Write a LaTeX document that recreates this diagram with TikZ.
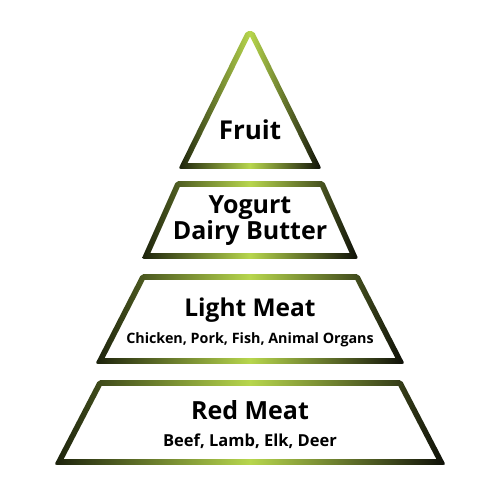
\documentclass[tikz,border=0pt]{standalone}
\usepackage{fontspec}
\setmainfont{Open Sans}
\usepackage{tikz}
\usetikzlibrary{positioning}
\definecolor{leafdark}{HTML}{1C220C}
\definecolor{leaflight}{HTML}{B7D64D}
\definecolor{leafblack}{HTML}{0E0F08}
\tikzset{tiershade/.style={left color=leafdark, right color=leafblack, middle color=leaflight, even odd rule}}
% one level: top y, bottom y, top half width, bottom half width (centre line of the rim)
\newcommand{\tier}[4]{%
  \pgfmathsetmacro{\tslope}{((#4)-(#3))/((#2)-(#1))}
  \pgfmathsetmacro{\toff}{2.8*sqrt(1+\tslope*\tslope)}
  \pgfmathsetmacro{\otop}{(#3)-2.8*\tslope+\toff}
  \pgfmathsetmacro{\obot}{(#4)+2.8*\tslope+\toff}
  \pgfmathsetmacro{\itop}{max((#3)+2.8*\tslope-\toff,0)}
  \pgfmathsetmacro{\ibot}{(#4)-2.8*\tslope-\toff}
  \shade[tiershade]
    [rounded corners=2pt] ({250-\otop},{(#1)-2.8}) -- ({250+\otop},{(#1)-2.8}) -- ({250+\obot},{(#2)+2.8}) -- ({250-\obot},{(#2)+2.8}) -- cycle
    [sharp corners] ({250-\itop},{(#1)+2.8}) -- ({250+\itop},{(#1)+2.8}) -- ({250+\ibot},{(#2)-2.8}) -- ({250-\ibot},{(#2)-2.8}) -- cycle;
}
\begin{document}
\begin{tikzpicture}[x=1pt, y=-1pt]
\useasboundingbox (0,0) rectangle (500,500);
\tier{34}{166}{2}{67}
\tier{184}{256}{72}{104}
\tier{277}{361}{107}{150}
\tier{383}{462}{150}{191}
\node [font=\bfseries\fontsize{26}{30}\selectfont] (fruit) at (250,130) {Fruit};
\node [align=center, font=\bfseries\fontsize{25}{26}\selectfont] (dairy) at (250,221) {Yogurt\\Dairy Butter};
\node [font=\bfseries\fontsize{24.5}{28}\selectfont] (light) at (250,310) {Light Meat};
\node [font=\bfseries\fontsize{14.3}{17}\selectfont] (lightlist) at (250,340) {Chicken, Pork, Fish, Animal Organs};
\node [font=\bfseries\fontsize{25}{28}\selectfont] (red) at (250,410) {Red Meat};
\node [font=\bfseries\fontsize{16.5}{19}\selectfont] (redlist) at (250,441) {Beef, Lamb, Elk, Deer};
\end{tikzpicture}
\end{document}
